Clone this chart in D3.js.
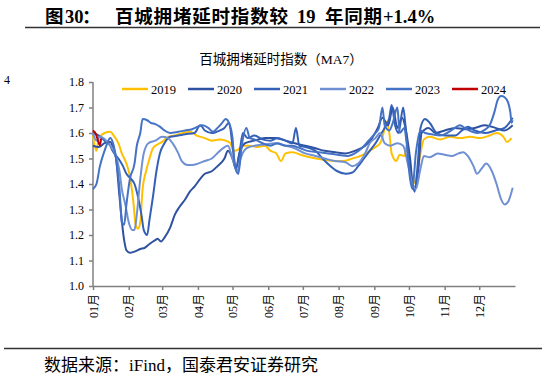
<!DOCTYPE html>
<html><head><meta charset="utf-8">
<script src="https://cdn.jsdelivr.net/npm/d3@7"></script>
<style>
html,body{margin:0;padding:0;background:#fff;}
svg{display:block;}
</style></head>
<body>
<svg id="c" width="542" height="380"></svg>
<script>
// ---- data (day of year, index value) ----
const years = ["2019","2020","2021","2022","2023","2024"];
const monthStartDays = [0,31,60,91,121,152,182,213,244,274,305,335];
const monthLabels = ["01月","02月","03月","04月","05月","06月","07月","08月","09月","10月","11月","12月"];
const yTicks = [1.0,1.1,1.2,1.3,1.4,1.5,1.6,1.7,1.8];

const s2019 = [[0,1.59],[3,1.53],[5,1.58],[10,1.60],[15,1.605],[18,1.59],[22,1.56],[25,1.52],[29,1.48],[32,1.43],[35,1.33],[37,1.24],[39,1.225],[41,1.25],[43,1.38],[46,1.45],[49,1.50],[52,1.54],[56,1.555],[60,1.565],[65,1.585],[71,1.59],[78,1.60],[84,1.605],[90,1.59],[97,1.58],[103,1.57],[110,1.575],[115,1.57],[119,1.56],[122,1.53],[126,1.535],[129,1.55],[136,1.55],[143,1.545],[149,1.55],[154,1.53],[159,1.52],[163,1.49],[167,1.52],[173,1.525],[180,1.515],[188,1.505],[200,1.495],[210,1.49],[217,1.49],[225,1.50],[232,1.51],[238,1.525],[245,1.545],[249,1.56],[252,1.60],[254,1.645],[257,1.60],[259,1.52],[263,1.49],[266,1.515],[270,1.51],[272,1.55],[275,1.48],[277,1.40],[280,1.42],[284,1.52],[287,1.575],[292,1.585],[301,1.575],[310,1.585],[318,1.58],[327,1.585],[336,1.58],[344,1.59],[350,1.60],[356,1.585],[359,1.565],[363,1.58]];

const s2020 = [[0,1.55],[5,1.545],[10,1.56],[15,1.565],[17,1.55],[20,1.50],[23,1.35],[27,1.18],[29,1.14],[32,1.13],[36,1.135],[41,1.145],[45,1.15],[49,1.165],[54,1.18],[56,1.185],[59,1.175],[62,1.19],[67,1.23],[71,1.28],[75,1.31],[80,1.34],[84,1.37],[88,1.39],[93,1.42],[97,1.44],[103,1.45],[108,1.47],[114,1.50],[117,1.53],[121,1.50],[124,1.46],[127,1.52],[132,1.56],[140,1.57],[149,1.58],[158,1.58],[167,1.57],[175,1.56],[184,1.55],[193,1.54],[201,1.53],[210,1.525],[219,1.52],[227,1.53],[236,1.55],[242,1.58],[247,1.62],[251,1.66],[256,1.63],[260,1.70],[264,1.62],[268,1.66],[271,1.62],[275,1.50],[278,1.38],[282,1.45],[285,1.60],[291,1.62],[297,1.60],[305,1.61],[314,1.62],[323,1.615],[331,1.62],[340,1.63],[349,1.62],[357,1.61],[364,1.63]];

const s2021 = [[0,1.60],[5,1.59],[10,1.57],[15,1.55],[17,1.53],[22,1.50],[26,1.47],[29,1.44],[33,1.42],[36,1.40],[39,1.35],[42,1.28],[44,1.22],[47,1.20],[49,1.26],[52,1.35],[55,1.45],[58,1.52],[62,1.56],[67,1.585],[74,1.59],[80,1.595],[88,1.60],[93,1.63],[97,1.61],[103,1.60],[110,1.61],[114,1.62],[118,1.64],[121,1.55],[124,1.46],[127,1.52],[130,1.60],[134,1.58],[140,1.59],[147,1.575],[154,1.57],[160,1.58],[167,1.57],[173,1.56],[176,1.62],[179,1.55],[184,1.545],[193,1.53],[199,1.50],[206,1.47],[212,1.45],[219,1.44],[225,1.445],[230,1.47],[235,1.50],[240,1.53],[245,1.56],[249,1.59],[253,1.62],[257,1.66],[259,1.71],[262,1.63],[265,1.60],[269,1.70],[271,1.63],[274,1.48],[277,1.40],[279,1.37],[282,1.50],[284,1.62],[288,1.655],[292,1.64],[298,1.60],[305,1.59],[314,1.59],[320,1.61],[325,1.625],[331,1.61],[340,1.60],[349,1.61],[357,1.62],[364,1.66]];

const s2022 = [[0,1.60],[3,1.57],[6,1.585],[9,1.58],[15,1.55],[19,1.52],[23,1.45],[25,1.38],[28,1.32],[31,1.25],[34,1.22],[36,1.22],[38,1.28],[41,1.42],[44,1.52],[48,1.56],[54,1.57],[60,1.585],[65,1.58],[69,1.56],[74,1.52],[77,1.49],[82,1.475],[86,1.475],[91,1.48],[97,1.49],[103,1.50],[110,1.53],[117,1.55],[121,1.50],[125,1.45],[128,1.50],[133,1.54],[140,1.55],[149,1.555],[158,1.56],[167,1.55],[175,1.54],[184,1.52],[193,1.51],[201,1.50],[210,1.49],[219,1.485],[225,1.47],[230,1.48],[236,1.52],[240,1.56],[245,1.58],[249,1.60],[253,1.56],[258,1.55],[264,1.56],[269,1.55],[273,1.48],[277,1.40],[280,1.38],[284,1.46],[287,1.51],[292,1.505],[299,1.52],[305,1.515],[311,1.51],[317,1.52],[321,1.525],[325,1.51],[330,1.47],[333,1.44],[337,1.46],[341,1.48],[346,1.45],[350,1.40],[354,1.34],[357,1.32],[360,1.33],[364,1.385]];

const s2023 = [[0,1.38],[3,1.40],[6,1.47],[10,1.53],[12,1.555],[15,1.58],[17,1.565],[20,1.50],[23,1.38],[25,1.25],[27,1.24],[29,1.32],[32,1.42],[36,1.48],[38,1.55],[41,1.60],[43,1.655],[47,1.65],[50,1.64],[54,1.635],[58,1.625],[62,1.61],[67,1.60],[74,1.605],[80,1.61],[86,1.615],[91,1.625],[95,1.63],[100,1.62],[104,1.605],[108,1.62],[112,1.64],[115,1.655],[118,1.64],[121,1.58],[123,1.47],[126,1.44],[129,1.55],[133,1.62],[136,1.58],[140,1.575],[147,1.56],[154,1.55],[160,1.56],[167,1.55],[173,1.55],[180,1.54],[186,1.53],[195,1.525],[204,1.52],[212,1.515],[221,1.51],[227,1.52],[233,1.54],[239,1.57],[244,1.595],[248,1.62],[251,1.70],[253,1.63],[257,1.61],[260,1.64],[264,1.70],[266,1.60],[270,1.62],[272,1.56],[275,1.42],[277,1.38],[280,1.52],[284,1.61],[288,1.60],[294,1.595],[301,1.59],[307,1.60],[314,1.62],[318,1.63],[324,1.615],[329,1.605],[334,1.60],[339,1.61],[344,1.63],[348,1.68],[351,1.73],[354,1.745],[357,1.74],[360,1.72],[362,1.68],[363,1.64],[364,1.65]];

const s2024 = [[0,1.61],[1,1.605],[2,1.60],[3,1.59],[4,1.575],[5,1.56],[6,1.552],[7,1.578]];

const seriesData = [s2019, s2020, s2021, s2022, s2023, s2024];
const colors = ["#FFC000","#2F52A0","#3560B8","#7090D4","#4472C4","#C00000"];

// ---- drawing ----
const svg = d3.select("#c");
const serif = "'Liberation Serif','Times New Roman',serif";
const cjk = "'Noto Sans CJK SC','Noto Sans CJK JP',sans-serif";
const reCJK = /([\u3000-\u9fff\uff00-\uffef]+)/;

// mixed-script text: CJK runs in a CJK font, Latin runs in serif
function mixed(sel, str) {
  str.split(reCJK).filter(s => s.length).forEach(part => {
    sel.append("tspan")
      .attr("font-family", reCJK.test(part) ? cjk : serif)
      .text(part);
  });
  return sel;
}

// page title (runs placed where they sit in the reference)
const titleRuns = [
  {t:"图", x:45, f:cjk},
  {t:"30", x:65, f:serif},
  {t:"：", x:82, f:cjk},
  {t:"百城拥堵延时指数较", x:115, f:cjk, len:173},
  {t:"19", x:297, f:serif},
  {t:"年同期", x:325, f:cjk, len:57},
  {t:"+1.4%", x:383, f:serif}
];
const title = svg.append("text").attr("y",23)
  .attr("font-weight","bold").attr("font-size",18.5).attr("fill","#000");
titleRuns.forEach(r => {
  const ts = title.append("tspan").attr("x",r.x).attr("font-family",r.f).text(r.t);
  if (r.len) ts.attr("textLength",r.len).attr("lengthAdjust","spacing");
});
svg.append("line").attr("x1",25).attr("x2",540).attr("y1",27.5).attr("y2",27.5)
  .attr("stroke","#333").attr("stroke-width",1.5);

// clipped neighbour fragment
svg.append("text").attr("x",4).attr("y",84).attr("font-family",serif).attr("font-size",12).text("4");

// chart title
const ct = svg.append("text").attr("x",281).attr("y",64).attr("text-anchor","middle")
  .attr("font-size",13.5).attr("fill","#000");
mixed(ct, "百城拥堵延时指数（MA7）");

const x = d3.scaleLinear().domain([0,366]).range([93,515]);
const y = d3.scaleLinear().domain([1.0,1.8]).range([286,82]);

// y axis
const yAxis = d3.axisLeft(y).tickValues(yTicks).tickFormat(d3.format(".1f")).tickSize(4).tickPadding(5);
const gy = svg.append("g").attr("transform","translate(93,0)").call(yAxis);
gy.selectAll("path,line").attr("stroke","#808080").attr("stroke-width",1.5);
gy.select(".domain").attr("d","M-0,82V286");
gy.selectAll("text").attr("font-family",serif).attr("font-size",12).attr("fill","#000");

// x axis
const xAxis = d3.axisBottom(x).tickValues(monthStartDays)
  .tickFormat(() => "").tickSize(4).tickSizeOuter(0);
const gx = svg.append("g").attr("transform","translate(0,286)").call(xAxis);
gx.selectAll("path,line").attr("stroke","#808080").attr("stroke-width",1.5);
gx.selectAll(".tick text").each(function(d,i){
  const t = d3.select(this).text(null)
    .attr("font-size",12).attr("fill","#000")
    .attr("text-anchor","end").attr("transform","rotate(-90)")
    .attr("x",-8).attr("y",0).attr("dy","0.35em");
  mixed(t, monthLabels[i]);
});

// lines
const line = d3.line().x(d=>x(d[0])).y(d=>y(d[1])).curve(d3.curveMonotoneX);
seriesData.forEach((s,i)=>{
  svg.append("path").datum(s).attr("d",line)
    .attr("fill","none").attr("stroke",colors[i]).attr("stroke-width",2)
    .attr("stroke-linejoin","round");
});

// legend
years.forEach((yr,i)=>{
  const lx = 122 + i*66;
  svg.append("line").attr("x1",lx).attr("x2",lx+26).attr("y1",89).attr("y2",89)
    .attr("stroke",colors[i]).attr("stroke-width",2.5);
  svg.append("text").attr("x",lx+29).attr("y",93.5)
    .attr("font-family",serif).attr("font-size",12.5).attr("fill","#000").text(yr);
});

// bottom rule and source
svg.append("line").attr("x1",4).attr("x2",542).attr("y1",348.5).attr("y2",348.5)
  .attr("stroke","#333").attr("stroke-width",1.5);
const src = svg.append("text").attr("x",44).attr("y",371)
  .attr("font-size",17).attr("fill","#000");
mixed(src, "数据来源：iFind，国泰君安证券研究");
</script>
</body></html>
